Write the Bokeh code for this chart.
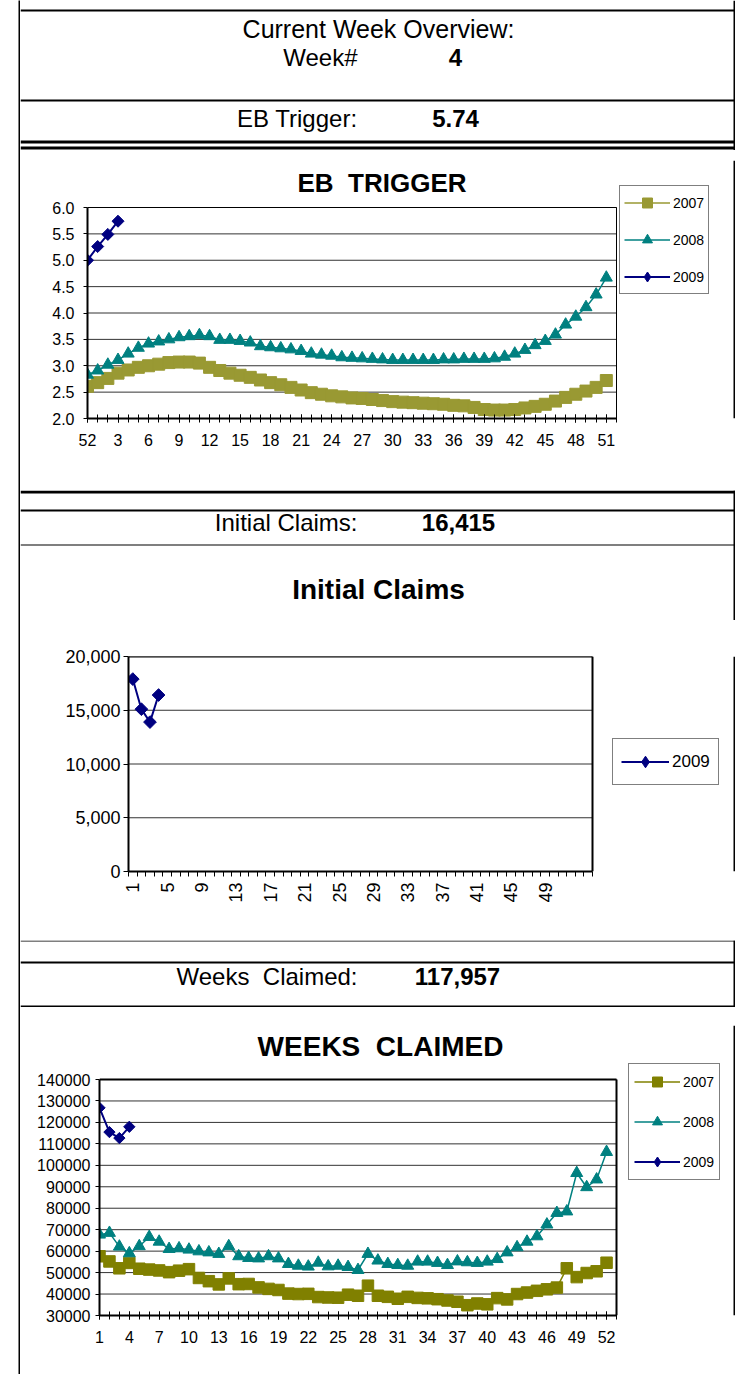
import math
from bokeh.plotting import figure
from bokeh.models import (Range1d, FixedTicker, PrintfTickFormatter, NumeralTickFormatter,
                          Legend, LegendItem, Spacer)
from bokeh.layouts import row, column
from bokeh.core.properties import value
from bokeh.embed import file_html
from bokeh.resources import INLINE

FONT = "Liberation Sans"
NB = "\u00a0"

# ---------------- data ----------------
current_week = "4"
eb_trigger_text = "5.74"
initial_claims_text = "16,415"
weeks_claimed_text = "117,957"

eb_weeks = [52, 1, 2, 3, 4, 5, 6, 7, 8, 9, 10, 11, 12, 13, 14, 15, 16, 17, 18, 19, 20,
            21, 22, 23, 24, 25, 26, 27, 28, 29, 30, 31, 32, 33, 34, 35, 36, 37, 38, 39,
            40, 41, 42, 43, 44, 45, 46, 47, 48, 49, 50, 51, 52]
eb_2007 = [2.61, 2.68, 2.76, 2.86, 2.92, 2.97, 3.00, 3.03, 3.06, 3.07,
           3.07, 3.05, 2.97, 2.91, 2.86, 2.82, 2.78, 2.73, 2.68, 2.64,
           2.59, 2.54, 2.49, 2.46, 2.43, 2.41, 2.39, 2.38, 2.36, 2.34,
           2.32, 2.31, 2.30, 2.29, 2.28, 2.27, 2.25, 2.24, 2.21, 2.17,
           2.16, 2.16, 2.17, 2.20, 2.23, 2.27, 2.33, 2.40, 2.46, 2.52,
           2.59, 2.72]
eb_2008 = [2.83, 2.91, 3.02, 3.11, 3.23, 3.34, 3.42, 3.46, 3.50, 3.54,
           3.56, 3.58, 3.56, 3.49, 3.49, 3.47, 3.44, 3.37, 3.35, 3.33,
           3.31, 3.28, 3.23, 3.21, 3.19, 3.16, 3.15, 3.14, 3.13, 3.12,
           3.11, 3.11, 3.11, 3.11, 3.11, 3.12, 3.12, 3.13, 3.13, 3.13,
           3.14, 3.17, 3.23, 3.30, 3.39, 3.47, 3.59, 3.78, 3.93, 4.11,
           4.35, 4.67]
eb_2009 = [5.00, 5.26, 5.49, 5.74]
eb_yticks = [2.0, 2.5, 3.0, 3.5, 4.0, 4.5, 5.0, 5.5, 6.0]

ic_weeks = [1, 2, 3, 4]
ic_2009 = [17900, 15100, 13900, 16415]
ic_tick_weeks = [1, 5, 9, 13, 17, 21, 25, 29, 33, 37, 41, 45, 49]
ic_yticks = [0, 5000, 10000, 15000, 20000]

wc_weeks = [1, 2, 3, 4, 5, 6, 7, 8, 9, 10, 11, 12, 13, 14, 15, 16, 17, 18, 19, 20,
            21, 22, 23, 24, 25, 26, 27, 28, 29, 30, 31, 32, 33, 34, 35, 36, 37, 38, 39,
            40, 41, 42, 43, 44, 45, 46, 47, 48, 49, 50, 51, 52]
wc_2007 = [57600, 55200, 52000, 54500, 51800, 51400, 51000, 50200, 50900, 51600,
           47500, 46000, 44500, 47300, 44600, 44700, 43100, 42400, 41900, 40200,
           40000, 40100, 38600, 38400, 38300, 39700, 39200, 43900, 39200, 38700,
           37800, 38700, 38200, 38000, 37600, 37000, 36400, 34800, 35600, 35200,
           38100, 37500, 40000, 40700, 41500, 42200, 43000, 52000, 47900, 49800,
           50600, 54600]
wc_2008 = [67700, 68500, 62100, 59000, 62300, 66600, 64400, 61000, 61300, 60700,
           59900, 59400, 58700, 62300, 57600, 56800, 56600, 57600, 56600, 54000,
           53200, 52800, 54600, 52900, 53200, 52600, 51200, 58700, 55600, 54000,
           53500, 53200, 55100, 55100, 54500, 53500, 55200, 54800, 54500, 55100,
           56300, 59400, 61800, 64400, 66900, 72400, 77800, 78500, 96400, 89800,
           93400, 106200]
wc_2009 = [126800, 115500, 112700, 117957]
wc_yticks = [30000, 40000, 50000, 60000, 70000, 80000, 90000, 100000, 110000,
             120000, 130000, 140000]

OLIVE_LIGHT = "#999933"
OLIVE = "#808000"
TEAL = "#008080"
NAVY = "#000080"
GRID = "#333333"

LEFT_PAD = 18    # blank space left of the outer border
BAR = 2          # outer border thickness
X0 = LEFT_PAD + BAR   # page x of the column's left edge (20)
W = 715          # column width (page x 20..735)
XR = X0 + W      # page x of the column's right edge
TOTAL_H = 1374
ROW_FONT = "24px"


def no_align(p):
    if hasattr(p, "frame_align"):
        p.frame_align = False


# ---------------- helpers ----------------
def band(y0, y1):
    """A horizontal slice of the page; data coordinates equal page pixels."""
    p = figure(width=W, height=y1 - y0, x_range=Range1d(X0, XR), y_range=Range1d(y1, y0),
               toolbar_location=None, tools="", output_backend="svg",
               x_axis_type=None, y_axis_type=None, min_border=0)
    p.outline_line_color = None
    p.background_fill_color = "white"
    p.border_fill_color = "white"
    no_align(p)
    # right-hand outer border of this slice
    p.quad(left=[XR - BAR], right=[XR], top=[y0], bottom=[y1], fill_color="black",
           line_color=None)
    return p


def hline(p, y0, y1):
    p.quad(left=[X0], right=[XR], top=[y0], bottom=[y1], fill_color="black",
           line_color=None)


def txt(p, x, y, s, size=ROW_FONT, bold=False, align="center"):
    p.text(x=[x], y=[y], text=[s], text_font=value(FONT), text_font_size=size,
           text_font_style="bold" if bold else "normal", text_align=align,
           text_baseline="middle", text_color="black")


def bar(w, h):
    p = figure(width=w, height=h, toolbar_location=None, tools="", output_backend="svg",
               x_axis_type=None, y_axis_type=None, min_border=0,
               background_fill_color="black", border_fill_color="black")
    p.outline_line_color = None
    no_align(p)
    return p


def chart(band_top, band_bottom, frame, area, xlim, ylim, yticks, outline_w):
    """frame / area = (left, right, top, bottom) in page pixels; area is the plot area
    holding the data limits xlim / ylim, frame is the (larger) drawing region."""
    fl, fr, ft, fb = frame
    al, ar, at, ab = area
    kx = (xlim[1] - xlim[0]) / (ar - al)
    ky = (ylim[1] - ylim[0]) / (ab - at)
    xr = Range1d(xlim[0] - (al - fl) * kx, xlim[1] + (fr - ar) * kx)
    yr = Range1d(ylim[0] - (fb - ab) * ky, ylim[1] + (at - ft) * ky)
    p = figure(width=W, height=band_bottom - band_top, x_range=xr, y_range=yr,
               toolbar_location=None, tools="", output_backend="svg",
               min_border_left=fl - X0, min_border_right=XR - fr,
               min_border_top=ft - band_top, min_border_bottom=band_bottom - fb)
    no_align(p)
    p.outline_line_color = None
    p.background_fill_color = "white"
    p.border_fill_color = "white"
    p.grid.visible = False
    for ax in (p.xaxis, p.yaxis):
        ax.axis_line_color = "black"
        ax.axis_line_width = 2
        ax.major_tick_line_color = "black"
        ax.minor_tick_line_color = "black"
        ax.major_label_text_color = "black"
        ax.major_label_text_font = FONT
    p.xaxis.bounds = (xlim[0], xlim[1])
    p.yaxis.bounds = (ylim[0], ylim[1])
    p.yaxis.minor_tick_line_color = None
    p.yaxis.major_tick_in = 0
    p.yaxis.major_tick_out = 4
    p.yaxis.ticker = FixedTicker(ticks=yticks)

    def to_data(px, py):
        return xlim[0] + (px - al) * kx, ylim[0] + (ab - py) * ky

    # horizontal gridlines and the plot-area border (top and right edges)
    n = len(yticks)
    p.segment(x0=[xlim[0]] * n, x1=[xlim[1]] * n, y0=yticks, y1=yticks,
              line_color=GRID, line_width=1)
    p.segment(x0=[xlim[0], xlim[1]], x1=[xlim[1], xlim[1]], y0=[ylim[1], ylim[0]],
              y1=[ylim[1], ylim[1]], line_color="black", line_width=outline_w)
    # right-hand outer border where it crosses this chart's frame
    bx0, by0 = to_data(XR - BAR, ft)
    bx1, by1 = to_data(XR, fb)
    p.quad(left=[bx0], right=[bx1], top=[by0], bottom=[by1], fill_color="black",
           line_color=None)
    return p, to_data


def title_text(p, to_data, px, py, s, size):
    x, y = to_data(px, py)
    p.text(x=[x], y=[y], text=[s], text_font=value(FONT), text_font_size=size,
           text_font_style="bold", text_align="center", text_baseline="middle",
           text_color="black")


def style_legend(lg, size, gw, gh, lh, spacing, padding):
    lg.border_line_color = "black"
    lg.border_line_width = 1
    lg.background_fill_color = "white"
    lg.background_fill_alpha = 1.0
    lg.label_text_font = FONT
    lg.label_text_font_size = size
    lg.label_text_color = "black"
    lg.glyph_width = gw
    lg.glyph_height = gh
    lg.label_height = lh
    lg.spacing = spacing
    lg.padding = padding
    lg.margin = 0
    lg.label_standoff = 3
    lg.inactive_fill_alpha = 0.0


def legend_diamond(p, xs, ys, size):
    """Diamond glyph used only for the legend entry (hidden in the plot)."""
    r = p.scatter(xs, ys, marker="diamond", size=size, fill_color=NAVY, line_color=NAVY)
    r.visible = False
    return r


# ---------------- header band (page y 0..150) ----------------
hdr = band(0, 150)
hline(hdr, 9, 11)
txt(hdr, 378, 28, "Current Week Overview:", size="25px")
txt(hdr, 357, 57, "Week#", align="right")
txt(hdr, 455, 57, current_week, bold=True)
hline(hdr, 99, 101)
txt(hdr, 357, 118, "EB Trigger:", align="right")
txt(hdr, 455, 118, eb_trigger_text, bold=True)
hline(hdr, 140, 143)
hline(hdr, 146, 149)

# ---------------- chart 1: EB TRIGGER (page y 150..490) ----------------
eb_x = list(range(len(eb_2007)))
p1, d1 = chart(150, 490, (87, XR, 160, 418), (87, 616, 207, 418),
               (0, len(eb_weeks) - 1), (2, 6), eb_yticks, 1)
title_text(p1, d1, 381.5, 182, "EB" + NB + " TRIGGER", "26px")
p1.xaxis.ticker = FixedTicker(ticks=list(range(0, len(eb_weeks), 3)),
                              minor_ticks=list(range(len(eb_weeks))))
p1.xaxis.major_label_overrides = {i: str(eb_weeks[i]) for i in range(0, len(eb_weeks), 3)}
p1.xaxis.major_tick_in = 4
p1.xaxis.major_tick_out = 4
p1.xaxis.minor_tick_in = 4
p1.xaxis.minor_tick_out = 4
p1.xaxis.major_label_standoff = 11
p1.xaxis.major_label_text_font_size = "16px"
p1.yaxis.formatter = PrintfTickFormatter(format="%.1f")
p1.yaxis.major_label_standoff = 9
p1.yaxis.major_label_text_font_size = "16px"

l07 = p1.line(eb_x, eb_2007, line_color=OLIVE_LIGHT, line_width=1.5)
s07 = p1.scatter(eb_x, eb_2007, marker="square", size=12, fill_color=OLIVE_LIGHT,
                 line_color=OLIVE_LIGHT)
l08 = p1.line(eb_x, eb_2008, line_color=TEAL, line_width=1.5)
s08 = p1.scatter(eb_x, eb_2008, marker="triangle", size=12, fill_color=TEAL, line_color=TEAL)
x09 = list(range(len(eb_2009)))
l09 = p1.line(x09, eb_2009, line_color=NAVY, line_width=2)
s09 = p1.scatter(x09, eb_2009, marker="square", angle=math.pi / 4, size=8.5,
                 fill_color=NAVY, line_color=NAVY)
dg1 = legend_diamond(p1, x09, eb_2009, 10)
lg1 = Legend(items=[LegendItem(label="2007", renderers=[l07, s07]),
                    LegendItem(label="2008", renderers=[l08, s08]),
                    LegendItem(label="2009", renderers=[l09, dg1])],
             location=(619 - 87, 418 - 294))
style_legend(lg1, "14px", 46, 25, 20, 12, 4)
p1.add_layout(lg1)

# ---------------- Initial claims band + chart 2 title (page y 490..620) ----------------
icb = band(490, 620)
hline(icb, 490, 493)
hline(icb, 509, 511)
txt(icb, 357, 522, "Initial Claims:", align="right")
txt(icb, 458, 522, initial_claims_text, bold=True)
hline(icb, 544, 545)
txt(icb, 378, 589, "Initial Claims", size="28px", bold=True)

# ---------------- chart 2: Initial Claims (page y 620..940) ----------------
p2, d2 = chart(620, 940, (128, XR, 656, 871), (128, 592, 656, 871),
               (0.5, 54.5), (0, 20000), ic_yticks, 2)
p2.xaxis.ticker = FixedTicker(ticks=ic_tick_weeks,
                              minor_ticks=[k + 0.5 for k in range(0, 55)])
p2.xaxis.major_label_overrides = {w: str(w) for w in ic_tick_weeks}
p2.xaxis.major_tick_in = 0
p2.xaxis.major_tick_out = 0
p2.xaxis.minor_tick_in = 0
p2.xaxis.minor_tick_out = 5
p2.xaxis.major_label_orientation = math.pi / 2
p2.xaxis.major_label_standoff = 6
p2.xaxis.major_label_text_font_size = "18px"
p2.yaxis.formatter = NumeralTickFormatter(format="0,0")
p2.yaxis.major_tick_out = 5
p2.yaxis.major_label_standoff = 3
p2.yaxis.major_label_text_font_size = "18px"

il = p2.line(ic_weeks, ic_2009, line_color=NAVY, line_width=2)
isc = p2.scatter(ic_weeks, ic_2009, marker="square", angle=math.pi / 4, size=9,
                 fill_color=NAVY, line_color=NAVY)
dg2 = legend_diamond(p2, ic_weeks, ic_2009, 12)
lg2 = Legend(items=[LegendItem(label="2009", renderers=[il, dg2])],
             location=(612 - 128, 871 - 785))
style_legend(lg2, "17px", 48, 29, 29, 0, 8)
p2.add_layout(lg2)

# ---------------- Weeks claimed band (page y 940..1007) ----------------
wcb = band(940, 1007)
hline(wcb, 940, 941)
hline(wcb, 961, 963)
txt(wcb, 357, 976, "Weeks" + NB + " Claimed:", align="right")
txt(wcb, 457, 976, weeks_claimed_text, bold=True)
hline(wcb, 1005, 1007)

# ---------------- chart 3: WEEKS CLAIMED (page y 1007..1374) ----------------
p3, d3 = chart(1007, 1374, (99, XR, 1025, 1315), (99, 616, 1079, 1315),
               (1, 53), (30000, 140000), wc_yticks, 2)
title_text(p3, d3, 380, 1046, "WEEKS" + NB + " CLAIMED", "28px")
p3.xaxis.ticker = FixedTicker(ticks=wc_weeks[::3], minor_ticks=list(range(1, 54)))
p3.xaxis.major_label_overrides = {w: str(w) for w in wc_weeks[::3]}
p3.xaxis.major_tick_in = 4
p3.xaxis.major_tick_out = 4
p3.xaxis.minor_tick_in = 4
p3.xaxis.minor_tick_out = 4
p3.xaxis.major_label_standoff = 11
p3.xaxis.major_label_text_font_size = "16px"
p3.yaxis.formatter = PrintfTickFormatter(format="%d")
p3.yaxis.major_label_standoff = 5
p3.yaxis.major_label_text_font_size = "16px"

m07 = p3.line(wc_weeks, wc_2007, line_color=OLIVE, line_width=1.5)
q07 = p3.scatter(wc_weeks, wc_2007, marker="square", size=11.5, fill_color=OLIVE,
                 line_color=OLIVE)
m08 = p3.line(wc_weeks, wc_2008, line_color=TEAL, line_width=1.5)
q08 = p3.scatter(wc_weeks, wc_2008, marker="triangle", size=12, fill_color=TEAL,
                 line_color=TEAL)
w09 = wc_weeks[:len(wc_2009)]
m09 = p3.line(w09, wc_2009, line_color=NAVY, line_width=2)
q09 = p3.scatter(w09, wc_2009, marker="square", angle=math.pi / 4,
                 size=8, fill_color=NAVY, line_color=NAVY)
dg3 = legend_diamond(p3, w09, wc_2009, 10)
lg3 = Legend(items=[LegendItem(label="2007", renderers=[m07, q07]),
                    LegendItem(label="2008", renderers=[m08, q08]),
                    LegendItem(label="2009", renderers=[m09, dg3])],
             location=(628 - 99, 1315 - 1180))
style_legend(lg3, "14px", 46, 25, 20, 15, 5)
p3.add_layout(lg3)

# ---------------- assemble ----------------
body = column(hdr, p1, icb, p2, wcb, p3, spacing=0)
page = row(Spacer(width=LEFT_PAD, height=TOTAL_H), bar(BAR, TOTAL_H), body, spacing=0)

open("out.html", "w").write(file_html(page, INLINE))
